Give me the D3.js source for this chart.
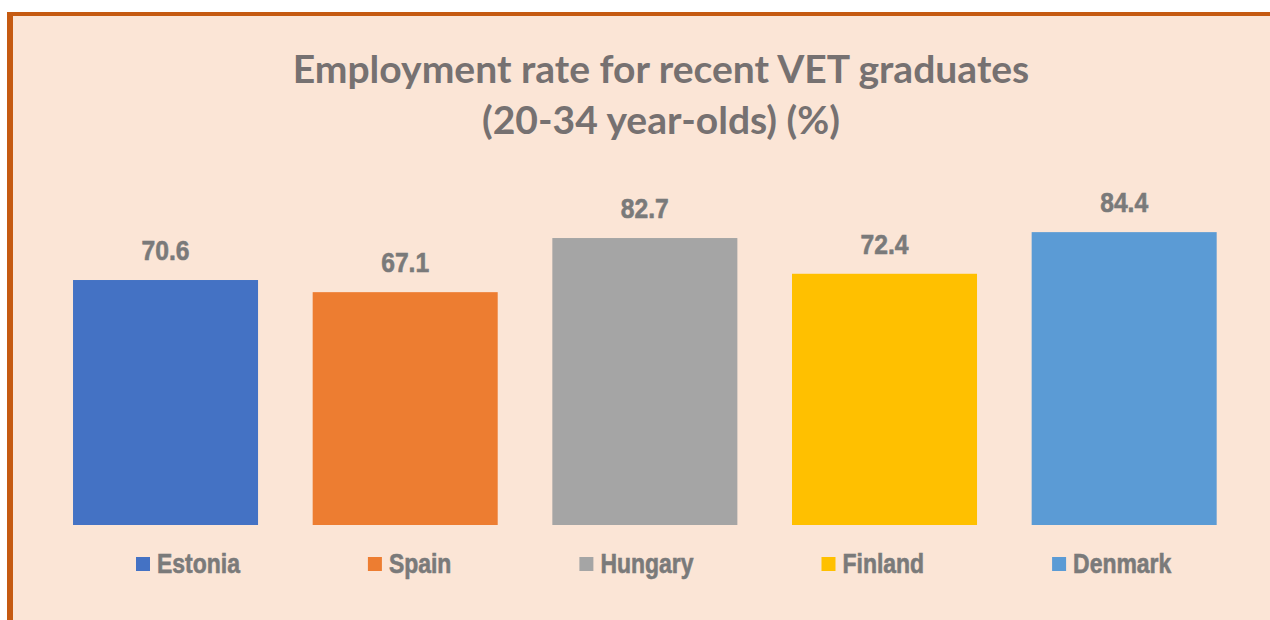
<!DOCTYPE html>
<html>
<head>
<meta charset="utf-8">
<script src="https://cdn.jsdelivr.net/npm/d3@7"></script>
<style>
    body { margin: 0; background: #ffffff; }
    svg { display: block; }
</style>
</head>
<body>
<script>
// Chart data
var countries = ["Estonia", "Spain", "Hungary", "Finland", "Denmark"];
var rates = [70.6, 67.1, 82.7, 72.4, 84.4];
var barColors = ["#4472c4", "#ed7d31", "#a5a5a5", "#ffc000", "#5b9bd5"];
var titleLines = ["Employment rate for recent VET graduates", "(20-34 year-olds) (%)"];

var width = 1270,
    height = 620;

var svg = d3.select("body")
    .append("svg")
    .attr("width", width)
    .attr("height", height);

// Frame: peach fill with dark orange border on left and top
svg.append("rect")
    .attr("x", 7).attr("y", 12)
    .attr("width", width - 7).attr("height", height - 12)
    .attr("fill", "#c55a11");
svg.append("rect")
    .attr("x", 13).attr("y", 16)
    .attr("width", width - 13).attr("height", height - 16)
    .attr("fill", "#fbe5d6");

// Scales
var x = d3.scaleBand()
    .domain(countries)
    .range([45.7, 1244])
    .paddingInner(0.228)
    .paddingOuter(0.114);

var y = d3.scaleLinear()
    .domain([0, 100])
    .range([525, 178]);

var gray = "#7a7a7a";
var boldFont = "'Liberation Sans', Arial, sans-serif";

// squeeze a text element horizontally (stand-in for a condensed bold face)
function squeeze(sel, k) {
    sel.each(function() {
        var w = this.getComputedTextLength();
        d3.select(this)
            .attr("textLength", w * k)
            .attr("lengthAdjust", "spacingAndGlyphs");
    });
}

// Title
var title = svg.append("g").attr("class", "title");
title.selectAll("text")
    .data(titleLines)
    .enter()
    .append("text")
    .attr("x", 661)
    .attr("y", function(d, i) { return 83 + i * 51; })
    .attr("text-anchor", "middle")
    .attr("font-family", "Lato, 'Open Sans', sans-serif")
    .attr("font-weight", "bold")
    .attr("font-size", 40)
    .attr("fill", "#767171")
    .text(function(d) { return d; });

// fit first line to the reference width
var firstLen = title.select("text").node().getComputedTextLength();
var titleSize = 40 * 737 / firstLen;
title.selectAll("text").attr("font-size", titleSize);

// Bars
svg.selectAll(".bar")
    .data(countries)
    .enter()
    .append("rect")
    .attr("class", "bar")
    .attr("x", function(d) { return x(d); })
    .attr("y", function(d, i) { return y(rates[i]); })
    .attr("width", x.bandwidth())
    .attr("height", function(d, i) { return y(0) - y(rates[i]); })
    .attr("fill", function(d, i) { return barColors[i]; });

// Value labels
svg.selectAll(".value")
    .data(countries)
    .enter()
    .append("text")
    .attr("class", "value")
    .attr("x", function(d) { return x(d) + x.bandwidth() / 2; })
    .attr("y", function(d, i) { return y(rates[i]) - 20; })
    .attr("text-anchor", "middle")
    .attr("font-family", boldFont)
    .attr("font-weight", "bold")
    .attr("font-size", 28)
    .attr("fill", gray)
    .attr("stroke", gray)
    .attr("stroke-width", 0.6)
    .text(function(d, i) { return rates[i].toFixed(1); })
    .call(squeeze, 0.88);

// Legend, laid out left to right
var legend = svg.append("g").attr("class", "legend");
var lx = 136;
countries.forEach(function(c, i) {
    legend.append("rect")
        .attr("x", lx).attr("y", 557)
        .attr("width", 14).attr("height", 14)
        .attr("fill", barColors[i]);
    var t = legend.append("text")
        .attr("x", lx + 21)
        .attr("y", 573)
        .attr("font-family", boldFont)
        .attr("font-weight", "bold")
        .attr("font-size", 27)
        .attr("fill", gray)
        .attr("stroke", gray)
        .attr("stroke-width", 0.6)
        .text(c);
    var w = t.node().getComputedTextLength() * 0.85;
    t.attr("textLength", w).attr("lengthAdjust", "spacingAndGlyphs");
    lx = lx + 21 + w + 128;
});
</script>
</body>
</html>
